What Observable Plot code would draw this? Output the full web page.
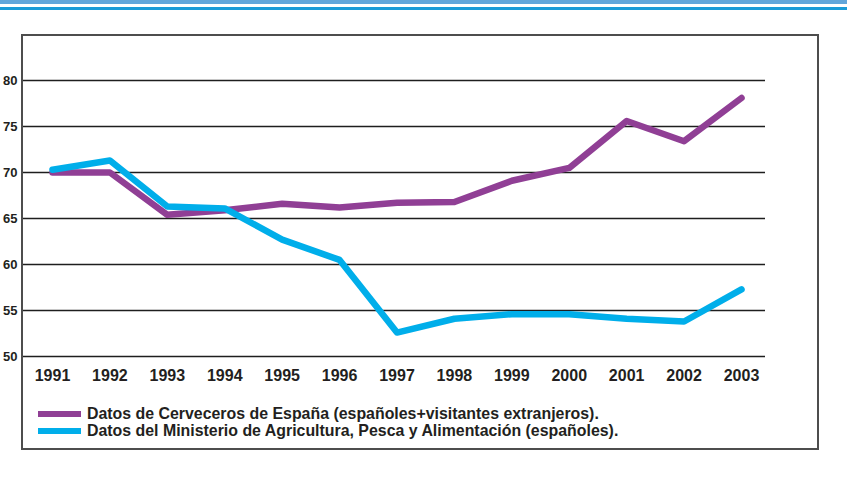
<!DOCTYPE html>
<html>
<head>
<meta charset="utf-8">
<script src="https://cdn.jsdelivr.net/npm/d3@7"></script>
<script src="https://cdn.jsdelivr.net/npm/@observablehq/plot@0.6"></script>
<style>
  html, body { margin: 0; padding: 0; background: #fff; }
  body { width: 847px; height: 480px; position: relative; overflow: hidden; font-family: "Liberation Sans", Arial, sans-serif; }
  #band1 { position: absolute; left: 0; top: 0; width: 847px; height: 4px; background: #62a6da; }
  #band2 { position: absolute; left: 0; top: 7px; width: 847px; height: 3px; background: #1b9bd7; }
  #chart { position: absolute; left: 0; top: 0; }
  #box { position: absolute; left: 21px; top: 34px; width: 798px; height: 416px; border: 2px solid #4d4d4d; box-sizing: border-box; pointer-events: none; }
  #legend { position: absolute; left: 38px; top: 405px; font-size: 15.9px; font-weight: bold; color: #231f20; line-height: 17px; }
  .item { display: flex; align-items: center; white-space: nowrap; }
  .sw { display: inline-block; width: 43px; height: 6px; margin-right: 6px; }
</style>
</head>
<body>
<div id="band1"></div>
<div id="band2"></div>
<div id="chart"></div>
<div id="box"></div>
<div id="legend"></div>
<script>
const years = [1991, 1992, 1993, 1994, 1995, 1996, 1997, 1998, 1999, 2000, 2001, 2002, 2003];
const cerveceros = [70.0, 70.0, 65.4, 65.9, 66.6, 66.2, 66.7, 66.8, 69.1, 70.5, 75.6, 73.4, 78.1];
const ministerio = [70.3, 71.3, 66.3, 66.1, 62.7, 60.5, 52.6, 54.1, 54.6, 54.6, 54.1, 53.8, 57.3];
const yTicks = [50, 55, 60, 65, 70, 75, 80];
const seriesNames = [
  "Datos de Cerveceros de España (españoles+visitantes extranjeros).",
  "Datos del Ministerio de Agricultura, Pesca y Alimentación (españoles)."
];
const seriesColors = ["#903f95", "#00aeea"];

const data = [];
years.forEach((yr, i) => {
  data.push({year: yr, value: cerveceros[i], series: seriesNames[0]});
});
years.forEach((yr, i) => {
  data.push({year: yr, value: ministerio[i], series: seriesNames[1]});
});

const chart = Plot.plot({
  width: 847,
  height: 400,
  marginLeft: 22,
  marginRight: 82,
  marginTop: 80,
  marginBottom: 44,
  style: {fontFamily: "Liberation Sans, Arial, sans-serif", background: "transparent"},
  x: {domain: [1990.4775, 2003.418], axis: null},
  y: {domain: [50, 80], axis: null},
  color: {domain: seriesNames, range: seriesColors},
  marks: [
    Plot.ruleY(yTicks, {stroke: "#1e1e1e", strokeWidth: 1.4}),
    Plot.axisY({ticks: yTicks, label: null, tickSize: 0, tickPadding: 5, fontSize: 13, fontWeight: "bold", fill: "#231f20", tickFormat: d => String(d)}),
    Plot.axisX({ticks: years, label: null, tickSize: 0, tickPadding: 13, fontSize: 16, fontWeight: "bold", fill: "#231f20", tickFormat: d => String(d)}),
    Plot.line(data, {x: "year", y: "value", z: "series", stroke: "series", strokeWidth: 6.5, strokeLinecap: "round", strokeLinejoin: "round"})
  ]
});
document.getElementById("chart").appendChild(chart);

const legend = document.getElementById("legend");
seriesNames.forEach((name, i) => {
  const item = document.createElement("div");
  item.className = "item";
  const sw = document.createElement("span");
  sw.className = "sw";
  sw.style.background = seriesColors[i];
  const label = document.createElement("span");
  label.textContent = name;
  item.appendChild(sw);
  item.appendChild(label);
  legend.appendChild(item);
});
</script>
</body>
</html>
